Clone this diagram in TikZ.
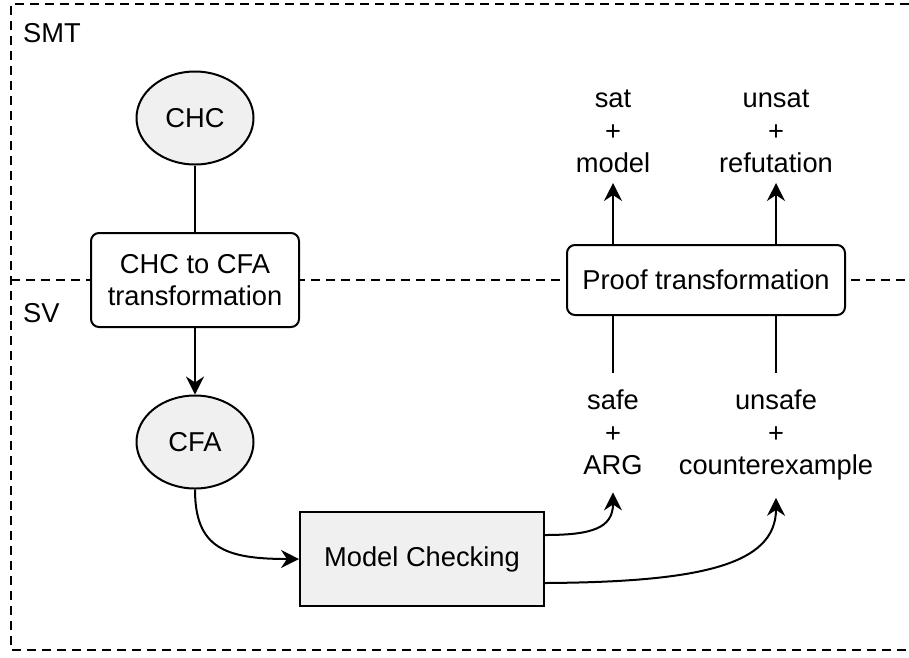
\documentclass[tikz,border=0pt]{standalone}
\usepackage{fontspec}
\setmainfont{Liberation Sans}
\usetikzlibrary{shapes.geometric,arrows.meta,calc}
\definecolor{fillgray}{RGB}{240,240,240}
\begin{document}
\begin{tikzpicture}[x=1pt,y=-1pt,
  every node/.style={font=\fontsize{27.3}{32.5}\selectfont},
  ln/.style={line width=2pt},
  arr/.style={line width=2pt,-{Stealth[length=18pt,width=18pt,inset=6pt]}},
  ell/.style={ellipse,draw,line width=2pt,fill=fillgray,minimum width=117pt,minimum height=93pt,inner sep=0pt},
  rbox/.style={rectangle,rounded corners=8pt,draw,line width=2pt,fill=white,align=center,inner sep=0pt},
  pbox/.style={rectangle,draw,line width=2pt,fill=fillgray,align=center,inner sep=0pt},
  lbl/.style={align=center,inner xsep=0pt},
  zone/.style={line width=1.8pt,dash pattern=on 9pt off 6pt},
  zlabel/.style={anchor=base west,inner sep=0pt}]
\useasboundingbox (0,0) rectangle (909,657);
\fill[white] (0,0) rectangle (909,657);
% zones
\draw[zone] (909,4) -| (11,650) -- (909,650);
\draw[zone] (11,280) -- (909,280);
\node[zlabel] (smt) at (23,42) {SMT};
\node[zlabel] (sv) at (23,322) {SV};
% nodes
\node[ell] (chc) at (195,118) {CHC};
\node[rbox,minimum width=208pt,minimum height=94pt] (t1) at (195,280) {CHC to CFA\\transformation};
\node[ell] (cfa) at (195,442) {CFA};
\node[pbox,minimum width=244pt,minimum height=94pt] (mc) at (422,559) {Model Checking};
\node[rbox,minimum width=278pt,minimum height=70pt] (proof) at (706,280) {Proof transformation};
\node[lbl,anchor=south,inner ysep=10pt] (sat) at (613,183) {sat\\+\\model};
\node[lbl,anchor=south,inner ysep=10pt] (unsat) at (776,183) {unsat\\+\\refutation};
\node[lbl,anchor=north,inner ysep=17pt] (safe) at (613,373) {safe\\+\\ARG};
\node[lbl,anchor=north,inner ysep=17pt] (unsafe) at (776,373) {unsafe\\+\\counterexample};
% connectors
\draw[ln] (chc.south) -- (t1.north);
\draw[arr] (t1.south) -- (cfa.north);
\draw[arr] (cfa.south) .. controls (195,548) and (225,559) .. (mc.west);
\coordinate (mcA) at ($(mc.north east)!0.25!(mc.south east)$);
\coordinate (mcB) at ($(mc.north east)!0.75!(mc.south east)$);
\draw[arr] (mcA) .. controls (592,535) and (613,528) .. (safe.south);
\draw[arr] (mcB) .. controls (700,582) and (776,565) .. (unsafe.south);
\draw[ln] (proof.south -| safe.north) -- (safe.north);
\draw[ln] (proof.south -| unsafe.north) -- (unsafe.north);
\draw[arr] (proof.north -| sat.south) -- (sat.south);
\draw[arr] (proof.north -| unsat.south) -- (unsat.south);
\end{tikzpicture}
\end{document}
